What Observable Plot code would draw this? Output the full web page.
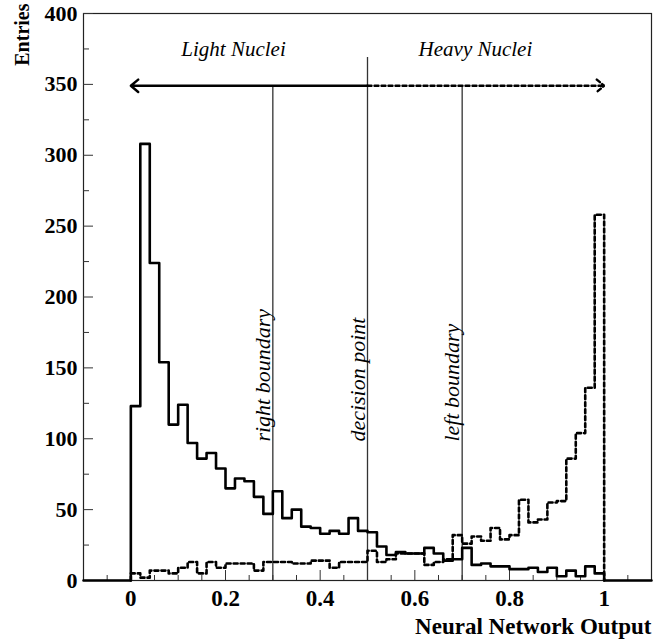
<!DOCTYPE html>
<html><head><meta charset="utf-8">
<script src="https://cdn.jsdelivr.net/npm/d3@7"></script>
<script src="https://cdn.jsdelivr.net/npm/@observablehq/plot@0.6"></script>
<style>body{margin:0;background:#fff} svg{display:block}</style>
</head><body><div id="chart"></div>
<script>
// Bin left edges (bin width 0.02)
const binLeft = [0,0.02,0.04,0.06,0.08,0.1,0.12,0.14,0.16,0.18,0.2,0.22,0.24,0.26,0.28,0.3,0.32,0.34,0.36,0.38,0.4,0.42,0.44,0.46,0.48,0.5,0.52,0.54,0.56,0.58,0.6,0.62,0.64,0.66,0.68,0.7,0.72,0.74,0.76,0.78,0.8,0.82,0.84,0.86,0.88,0.9,0.92,0.94,0.96,0.98];
const binEnd = 1.0;
const xDomain = [-0.1, 1.1];
const yDomain = [0, 400];
// Light nuclei (solid)
const lightNuclei = [123,308,224,154,110,124,97,86,90,79,65,72,70,59,47,63,44,50,38,37,33,35,33,44,35,34,24,18,20,19,19,23,19,14,15,23,11,12,10,10,8,8,9,6,9,3,7,3,10,5];
// Heavy nuclei (dashed)
const heavyNuclei = [5,2,7,7,5,9,13,5,13,9,12,12,12,7,13,13,13,12,12,14,14,9,13,13,13,21,13,15,19,19,19,11,13,15,32,26,31,28,37,29,32,57,41,43,55,56,86,104,136,258];
// Annotations
const boundaryX = [0.3, 0.5, 0.7];
const boundaryTop = [348, 369, 348];
const boundaryLabels = ["right boundary", "decision point", "left boundary"];
const arrowY = 349;
const regionLabels = ["Light Nuclei", "Heavy Nuclei"];
const regionLabelX = [0.217, 0.728];
const regionLabelY = 370;
const verticalLabelY = 98;
const xMajor = [0, 0.2, 0.4, 0.6, 0.8, 1];
const xMinor = [-0.05,0.05,0.1,0.15,0.25,0.3,0.35,0.45,0.5,0.55,0.65,0.7,0.75,0.85,0.9,0.95,1.05];
const yMajor = [0,50,100,150,200,250,300,350,400];
const yMinor = [25,75,125,175,225,275,325,375];

const lightSteps = [{x: xDomain[0], y: 0}, ...binLeft.map((x, i) => ({x, y: lightNuclei[i]})), {x: binEnd, y: 0}, {x: xDomain[1], y: 0}];
const heavySteps = [{x: binLeft[0], y: 0}, ...binLeft.map((x, i) => ({x, y: heavyNuclei[i]})), {x: binEnd, y: 0}];
const boundaries = boundaryX.map((x, i) => ({x, top: boundaryTop[i], label: boundaryLabels[i]}));
const regions = regionLabels.map((t, i) => ({t, x: regionLabelX[i]}));

const plot = Plot.plot({
  width: 663, height: 639,
  marginLeft: 83, marginRight: 12, marginTop: 13, marginBottom: 59,
  style: {fontFamily: "'Liberation Serif', 'Times New Roman', serif", fontSize: "22px", fontWeight: "bold", color: "black", background: "white"},
  x: {domain: xDomain},
  y: {domain: yDomain},
  marks: [
    Plot.frame({stroke: "#222", strokeWidth: 1.2}),
    // ticks inside frame
    Plot.axisX(xMajor, {tickSize: -10, text: null, stroke: "#333", strokeWidth: 1}),
    Plot.axisX(xMinor, {tickSize: -5, text: null, stroke: "#333", strokeWidth: 1}),
    Plot.axisX(xMajor, {tickSize: 0, tickPadding: 9, tickFormat: d => String(d), fontSize: 23, fontWeight: "bold", label: null}),
    Plot.axisY(yMajor, {tickSize: -10, text: null, stroke: "#333", strokeWidth: 1}),
    Plot.axisY(yMinor, {tickSize: -6, text: null, stroke: "#333", strokeWidth: 1}),
    Plot.axisY(yMajor, {tickSize: 0, tickPadding: 6, fontSize: 22, fontWeight: "bold", label: null}),
    // boundary lines
    Plot.ruleX(boundaries, {x: "x", y1: 0, y2: "top", stroke: "#333", strokeWidth: 1.3}),
    Plot.text(boundaries, {x: "x", y: verticalLabelY, text: "label", rotate: -90, textAnchor: "start", lineAnchor: "bottom", dx: -3, fontSize: 22, fontStyle: "italic", fontWeight: "normal"}),
    // arrows
    Plot.arrow([{x1: 0.5, x2: 0, y: arrowY}], {x1: "x1", x2: "x2", y1: "y", y2: "y", stroke: "black", strokeWidth: 2.4, headLength: 6, headAngle: 80, insetStart: 0, insetEnd: 0}),
    Plot.arrow([{x1: 0.5, x2: 1.0, y: arrowY}], {x1: "x1", x2: "x2", y1: "y", y2: "y", stroke: "black", strokeWidth: 2.4, strokeDasharray: "4,3", headLength: 6, headAngle: 80, insetStart: 0, insetEnd: 0}),
    Plot.text(regions, {x: "x", y: regionLabelY, text: "t", fontSize: 21, fontStyle: "italic", fontWeight: "normal", lineAnchor: "bottom"}),
    // histograms
    Plot.line(heavySteps, {x: "x", y: "y", curve: "step-after", stroke: "black", strokeWidth: 2.6, strokeDasharray: "4,3"}),
    Plot.line(lightSteps, {x: "x", y: "y", curve: "step-after", stroke: "black", strokeWidth: 2.6}),
    // axis titles
    Plot.text(["Neural Network Output"], {frameAnchor: "bottom-right", dy: 46, textAnchor: "end", lineAnchor: "middle", fontSize: 23, fontWeight: "bold"}),
    Plot.text(["Entries"], {frameAnchor: "top-left", dx: -61, dy: -10, rotate: -90, textAnchor: "end", lineAnchor: "middle", fontSize: 20, fontWeight: "bold"})
  ]
});
document.getElementById("chart").appendChild(plot);
</script>
</body></html>
